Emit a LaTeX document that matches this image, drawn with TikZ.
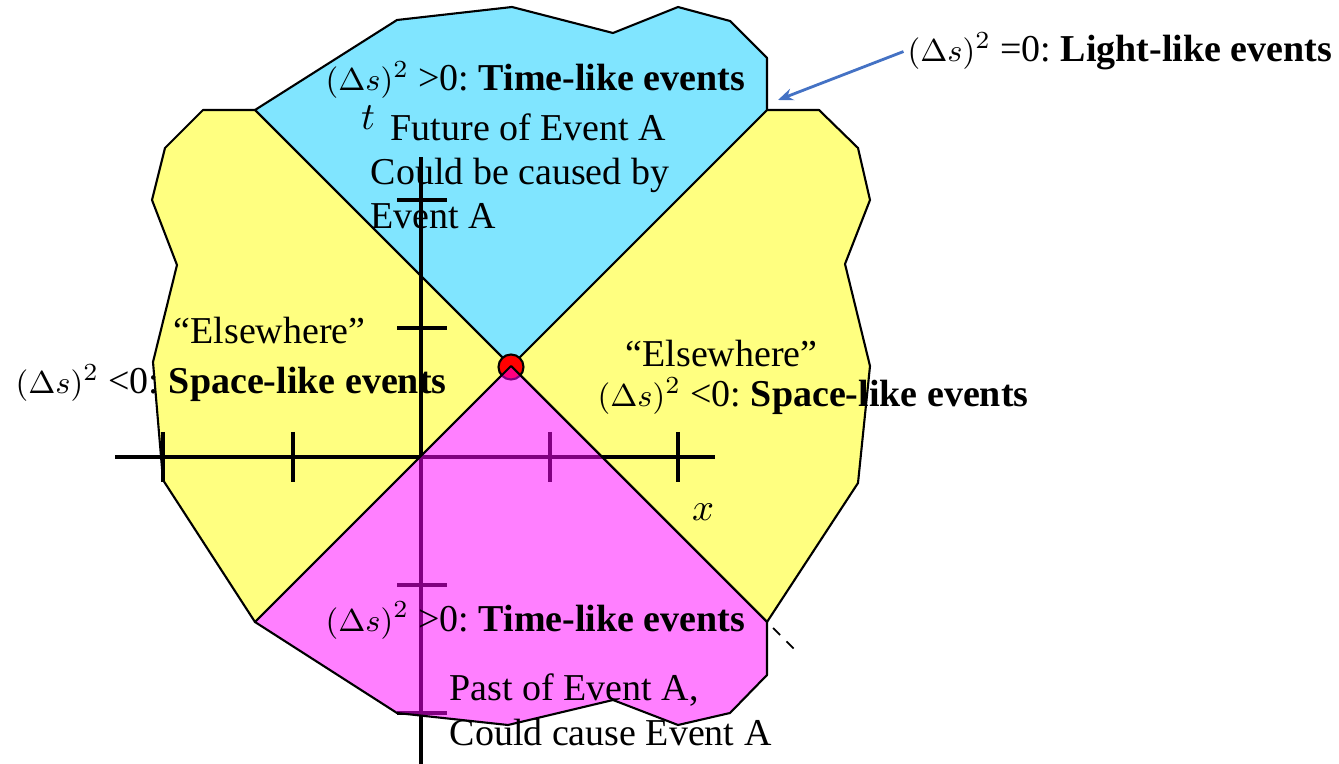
\documentclass[tikz,border=0pt]{standalone}
\usepackage{fontspec}
\setmainfont{Liberation Serif}
\usetikzlibrary{arrows.meta}

\definecolor{futureblue}{RGB}{128,229,255}
\definecolor{elseyellow}{RGB}{255,255,128}
\definecolor{pastmagenta}{RGB}{255,0,255}
\definecolor{arrowblue}{RGB}{68,114,196}

\frenchspacing
\newcommand{\dsq}{{\fontsize{9.4}{11}\selectfont$(\Delta s)^2$}}

\begin{document}
\begin{tikzpicture}[
	x=0.01cm, y=-0.01cm,
	every node/.style={inner sep=0pt, font=\fontsize{10.8}{12.6}\selectfont},
	region/.style={draw=black, line width=0.6pt, line join=round},
	future_region/.style={region, fill=futureblue},
	else_region/.style={region, fill=elseyellow},
	past_region/.style={region, fill=pastmagenta, fill opacity=0.5},
	axisline/.style={line width=1.3pt},
	tickmark/.style={line width=1.1pt},
	event_dot/.style={circle, draw=black, line width=0.6pt, fill=red, minimum size=0.25cm},
	lbl/.style={anchor=base west},
	arrow/.style={-{Stealth[length=1.5mm, width=1.2mm]}, draw=arrowblue, line width=0.8pt}
	]
	\useasboundingbox (0,0) rectangle (1339,764);
	
	% --- event A and the light cone ---
	\coordinate (A) at (511,366);
	
	\draw[else_region] (A) -- (255,110) -- (203,110) -- (165,148) -- (152,200) -- (177,265)
		-- (153,362) -- (163,480) -- (255,622) -- cycle;
	\draw[else_region] (A) -- (767,110) -- (819,110) -- (858,148) -- (870,200) -- (845,264)
		-- (870,366) -- (858,483) -- (767,622) -- cycle;
	\draw[future_region] (A) -- (255,110) -- (397,20) -- (512,7) -- (613,33) -- (678,7)
		-- (730,21) -- (767,58) -- (767,110) -- cycle;
	
	% --- axes ---
	\coordinate (xmin) at (115,457);
	\coordinate (xmax) at (715,457);
	\coordinate (tmin) at (421,764);
	\coordinate (tmax) at (421,157);
	\draw[axisline] (xmin) -- (xmax);
	\draw[axisline] (tmin) -- (tmax);
	\foreach \tx in {163,293,550,678}
		\draw[tickmark] (\tx,432) -- (\tx,482);
	\foreach \ty in {200,328,585,713}
		\draw[tickmark] (397,\ty) -- (447,\ty);
	
	\node[event_dot] (evA) at (511,367) {};
	
	\draw[past_region] (A) -- (255,622) -- (397,713) -- (508,725) -- (613,700) -- (678,725)
		-- (730,713) -- (767,675) -- (767,622) -- cycle;
	
	\coordinate (coneA) at (773,628);
	\coordinate (coneB) at (795,650);
	\draw[line width=0.5pt, dash pattern=on 0.1cm off 0.09cm] (coneA) -- (coneB);
	
	% --- labels ---
	\node at (368,118) (tlab) {$t$};
	\node at (703,512) (xlab) {$x$};
	
	\node[lbl] (futureTag) at (325,91) {\dsq{} >0: \textbf{Time-like events}};
	\node[lbl, align=left] (futureTxt) at (370,229) {\hspace*{0.2cm}Future of Event A\\Could be caused by\\Event A};
	
	\node[lbl] (lightTag) at (907,62) {\dsq{} =0: \textbf{Light-like events}};
	\coordinate (lightTip) at (778,100);
	\draw[arrow] ([xshift=-1pt]lightTag.west) -- (lightTip);
	
	\node[lbl] (elseL) at (173,344) {“Elsewhere”};
	\node[lbl] (spaceL) at (15,394) {\dsq{} <0: \textbf{Space-like events}};
	\node[lbl] (elseR) at (625,367) {“Elsewhere”};
	\node[lbl] (spaceR) at (597,407) {\dsq{} <0: \textbf{Space-like events}};
	
	\node[lbl] (pastTag) at (325,631) {\dsq{} >0: \textbf{Time-like events}};
	\node[lbl, align=left] (pastTxt) at (449,745) {Past of Event A,\\Could cause Event A};
	
\end{tikzpicture}
\end{document}
